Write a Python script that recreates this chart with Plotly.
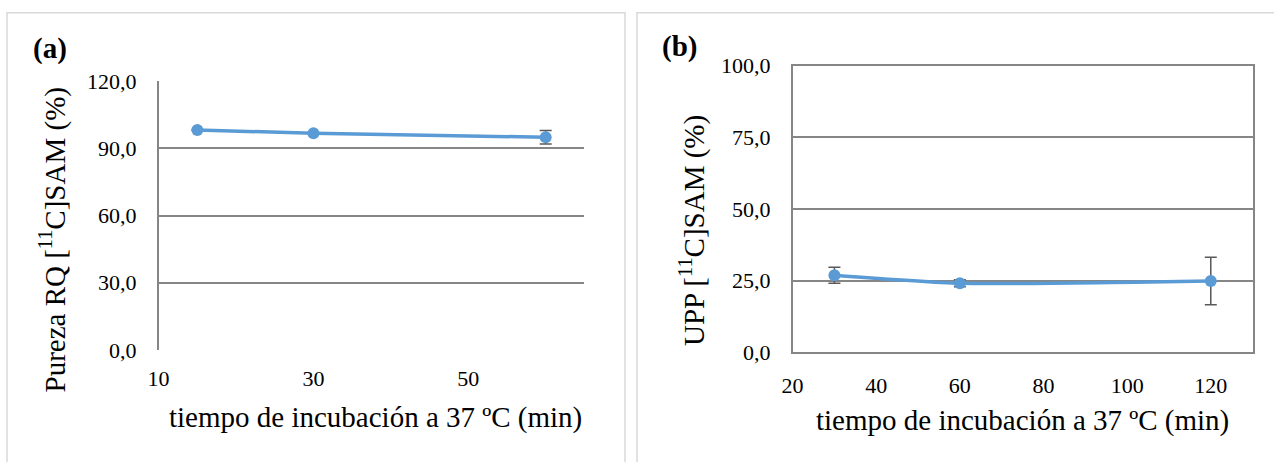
import plotly.graph_objects as go

W, H = 1274, 462

# ---- data (a) ----
a_time = [15, 30, 60]
a_purity = [98.1, 96.7, 94.9]
a_err = [0.0, 0.0, 3.0]
a_yticks = [0, 30, 60, 90, 120]
a_yticktext = ["0,0", "30,0", "60,0", "90,0", "120,0"]
a_xticks = [10, 30, 50]

# ---- data (b) ----
b_time = [30, 60, 120]
b_upp = [26.9, 24.1, 24.9]
b_err = [2.8, 1.2, 8.3]
b_yticks = [0, 25, 50, 75, 100]
b_yticktext = ["0,0", "25,0", "50,0", "75,0", "100,0"]
b_xticks = [20, 40, 60, 80, 100, 120]

BLUE = "#5B9BD5"
GRID = "#868686"
ERR = "#595959"
FONT = "Liberation Serif"


def px(x):
    return x / W


def py(y):
    return 1 - y / H


fig = go.Figure()

fig.add_trace(go.Scatter(
    x=a_time, y=a_purity, mode="lines+markers",
    line=dict(color=BLUE, width=3.5, shape="spline", smoothing=0.6),
    marker=dict(color=BLUE, size=12),
    error_y=dict(type="data", array=a_err, color=ERR, thickness=1.5, width=6),
    xaxis="x", yaxis="y", showlegend=False,
))
fig.add_trace(go.Scatter(
    x=b_time, y=b_upp, mode="lines+markers",
    line=dict(color=BLUE, width=3.5, shape="spline", smoothing=0.6),
    marker=dict(color=BLUE, size=12),
    error_y=dict(type="data", array=b_err, color=ERR, thickness=1.5, width=6),
    xaxis="x2", yaxis="y2", showlegend=False,
))

tickfont = dict(family=FONT, size=22, color="black")

fig.update_layout(
    width=W, height=H,
    margin=dict(l=0, r=0, t=0, b=0, pad=0, autoexpand=False),
    paper_bgcolor="white", plot_bgcolor="white",
    font=dict(family=FONT, color="black"),
    xaxis=dict(
        domain=[px(158.6), px(584.4)], range=[10, 65],
        tickvals=a_xticks, ticktext=[str(v) for v in a_xticks],
        showgrid=False, zeroline=False, showline=False, ticks="",
        tickfont=tickfont, ticklabelstandoff=13, anchor="y", automargin=False,
    ),
    yaxis=dict(
        domain=[py(350), py(81)], range=[0, 120],
        tickvals=a_yticks, ticktext=a_yticktext,
        showgrid=True, gridcolor=GRID, gridwidth=1.5, zeroline=False,
        showline=True, linecolor=GRID, linewidth=1.5, ticks="",
        tickfont=tickfont, ticklabelstandoff=16, anchor="x", automargin=False,
    ),
    xaxis2=dict(
        domain=[px(792.6), px(1252.6)], range=[20, 130],
        tickvals=b_xticks, ticktext=[str(v) for v in b_xticks],
        showgrid=False, zeroline=False, showline=True, mirror=True,
        linecolor=GRID, linewidth=1.5, ticks="",
        tickfont=tickfont, ticklabelstandoff=13, anchor="y2", automargin=False,
    ),
    yaxis2=dict(
        domain=[py(352.3), py(65.7)], range=[0, 100],
        tickvals=b_yticks, ticktext=b_yticktext,
        showgrid=True, gridcolor=GRID, gridwidth=1.5, zeroline=False,
        showline=True, mirror=True, linecolor=GRID, linewidth=1.5, ticks="",
        tickfont=tickfont, ticklabelstandoff=16, anchor="x2", automargin=False,
    ),
)

shapes = [
    dict(type="rect", xref="paper", yref="paper",
         x0=px(7), x1=px(625), y0=py(475), y1=py(12.7),
         line=dict(color="#D9D9D9", width=1.5), layer="below"),
    dict(type="rect", xref="paper", yref="paper",
         x0=px(637), x1=px(1290), y0=py(475), y1=py(12.7),
         line=dict(color="#D9D9D9", width=1.5), layer="below"),
]
fig.update_layout(shapes=shapes)

ann = []
titlefont = dict(family=FONT, size=29, color="black")
ann.append(dict(text="tiempo de incubación a 37 ºC (min)", x=px(375), y=py(417),
                xref="paper", yref="paper", showarrow=False, font=titlefont,
                xanchor="center", yanchor="middle"))
ann.append(dict(text="tiempo de incubación a 37 ºC (min)", x=px(1022.6), y=py(420.7),
                xref="paper", yref="paper", showarrow=False, font=titlefont,
                xanchor="center", yanchor="middle"))
ann.append(dict(text="Pureza RQ [<sup>11</sup>C]SAM (%)", x=px(53), y=py(240.5),
                xref="paper", yref="paper", showarrow=False, font=titlefont,
                textangle=-90, xanchor="center", yanchor="middle"))
ann.append(dict(text="UPP [<sup>11</sup>C]SAM (%)", x=px(692), y=py(231),
                xref="paper", yref="paper", showarrow=False, font=titlefont,
                textangle=-90, xanchor="center", yanchor="middle"))
ann.append(dict(text="<b>(a)</b>", x=px(50), y=py(48), xref="paper", yref="paper",
                showarrow=False, font=dict(family=FONT, size=29, color="black"),
                xanchor="center", yanchor="middle"))
ann.append(dict(text="<b>(b)</b>", x=px(679), y=py(47), xref="paper", yref="paper",
                showarrow=False, font=dict(family=FONT, size=29, color="black"),
                xanchor="center", yanchor="middle"))
fig.update_layout(annotations=ann)

fig.write_html("out.html", config={"displayModeBar": False},
               post_script="document.body.style.margin='0';document.body.style.overflow='hidden';")
